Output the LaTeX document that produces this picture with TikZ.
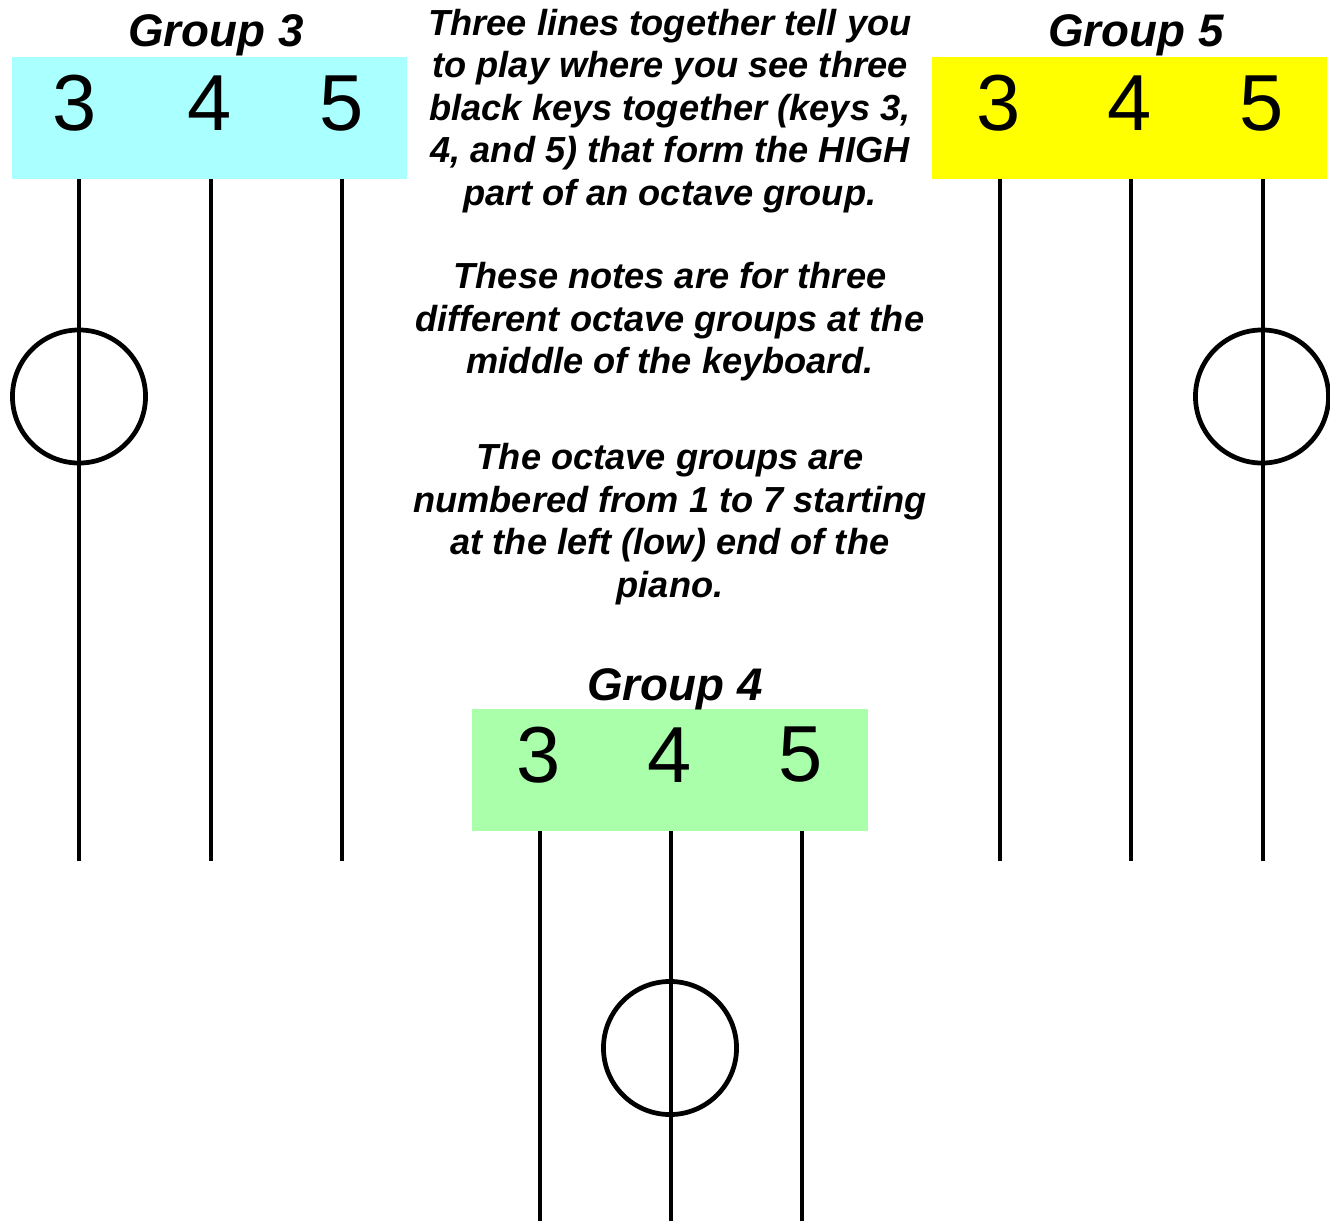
\documentclass[tikz,border=0pt]{standalone}
\usepackage{fontspec}
\setmainfont{Liberation Sans}
\definecolor{grpcyan}{HTML}{AAFFFF}
\definecolor{grpgreen}{HTML}{AAFFAA}
\definecolor{grpyellow}{HTML}{FFFF00}
\tikzset{
  keybox/.style={minimum width=3.95cm, minimum height=1.22cm, inner sep=0pt},
  keynum/.style={inner sep=0pt, font=\fontsize{22.6}{26}\selectfont},
  grouplabel/.style={inner sep=0pt, anchor=base, font=\fontsize{13}{15}\selectfont\bfseries\itshape},
  infotext/.style={inner sep=0pt, align=center, font=\fontsize{10.3}{12.1}\selectfont\bfseries\itshape},
  keyline/.style={line width=1.35pt},
  notering/.style={circle, draw, line width=1.35pt, minimum size=1.33cm, inner sep=0pt}
}

\begin{document}
\begin{tikzpicture}[x=0.01cm, y=-0.01cm]
  \useasboundingbox (0,0) rectangle (1330,1221);

  % group 3
  \node[keybox, fill=grpcyan] (g3box) at (209.5,118) {};
  \node[grouplabel] (g3label) at (216,47) {Group 3};
  \node[keynum] (g3k3) at (75,103.5) {3};
  \node[keynum] (g3k4) at (210,103.5) {4};
  \node[keynum] (g3k5) at (342,103.5) {5};
  \coordinate (g3t3) at (79,179);  \coordinate (g3b3) at (79,861);
  \coordinate (g3t4) at (211,179); \coordinate (g3b4) at (211,861);
  \coordinate (g3t5) at (342,179); \coordinate (g3b5) at (342,861);
  \draw[keyline] (g3t3) -- (g3b3);
  \draw[keyline] (g3t4) -- (g3b4);
  \draw[keyline] (g3t5) -- (g3b5);
  \node[notering] (g3note) at (79,396.5) {};

  % group 5
  \node[keybox, fill=grpyellow] (g5box) at (1129.5,118) {};
  \node[grouplabel] (g5label) at (1136,47) {Group 5};
  \node[keynum] (g5k3) at (998.5,103.5) {3};
  \node[keynum] (g5k4) at (1130,103.5) {4};
  \node[keynum] (g5k5) at (1262,103.5) {5};
  \coordinate (g5t3) at (1000,179); \coordinate (g5b3) at (1000,861);
  \coordinate (g5t4) at (1131,179); \coordinate (g5b4) at (1131,861);
  \coordinate (g5t5) at (1263,179); \coordinate (g5b5) at (1263,861);
  \draw[keyline] (g5t3) -- (g5b3);
  \draw[keyline] (g5t4) -- (g5b4);
  \draw[keyline] (g5t5) -- (g5b5);
  \node[notering] (g5note) at (1262,396.5) {};

  % group 4
  \node[keybox, fill=grpgreen] (g4box) at (670,770) {};
  \node[grouplabel] (g4label) at (675,700) {Group 4};
  \node[keynum] (g4k3) at (539,755) {3};
  \node[keynum] (g4k4) at (670,755) {4};
  \node[keynum] (g4k5) at (801,755) {5};
  \coordinate (g4t3) at (540,831); \coordinate (g4b3) at (540,1221);
  \coordinate (g4t4) at (671,831); \coordinate (g4b4) at (671,1221);
  \coordinate (g4t5) at (802,831); \coordinate (g4b5) at (802,1221);
  \draw[keyline] (g4t3) -- (g4b3);
  \draw[keyline] (g4t4) -- (g4b4);
  \draw[keyline] (g4t5) -- (g4b5);
  \node[notering] (g4note) at (670,1048) {};

  % explanation
  \node[infotext] (info1) at (670,111) {Three lines together tell you\\to play where you see three\\black keys together (keys 3,\\4, and 5) that form the HIGH\\part of an octave group.};
  \node[infotext] (info2) at (670,322) {These notes are for three\\different octave groups at the\\middle of the keyboard.};
  \node[infotext] (info3) at (670,524) {The octave groups are\\numbered from 1 to 7 starting\\at the left (low) end of the\\piano.};
\end{tikzpicture}
\end{document}
